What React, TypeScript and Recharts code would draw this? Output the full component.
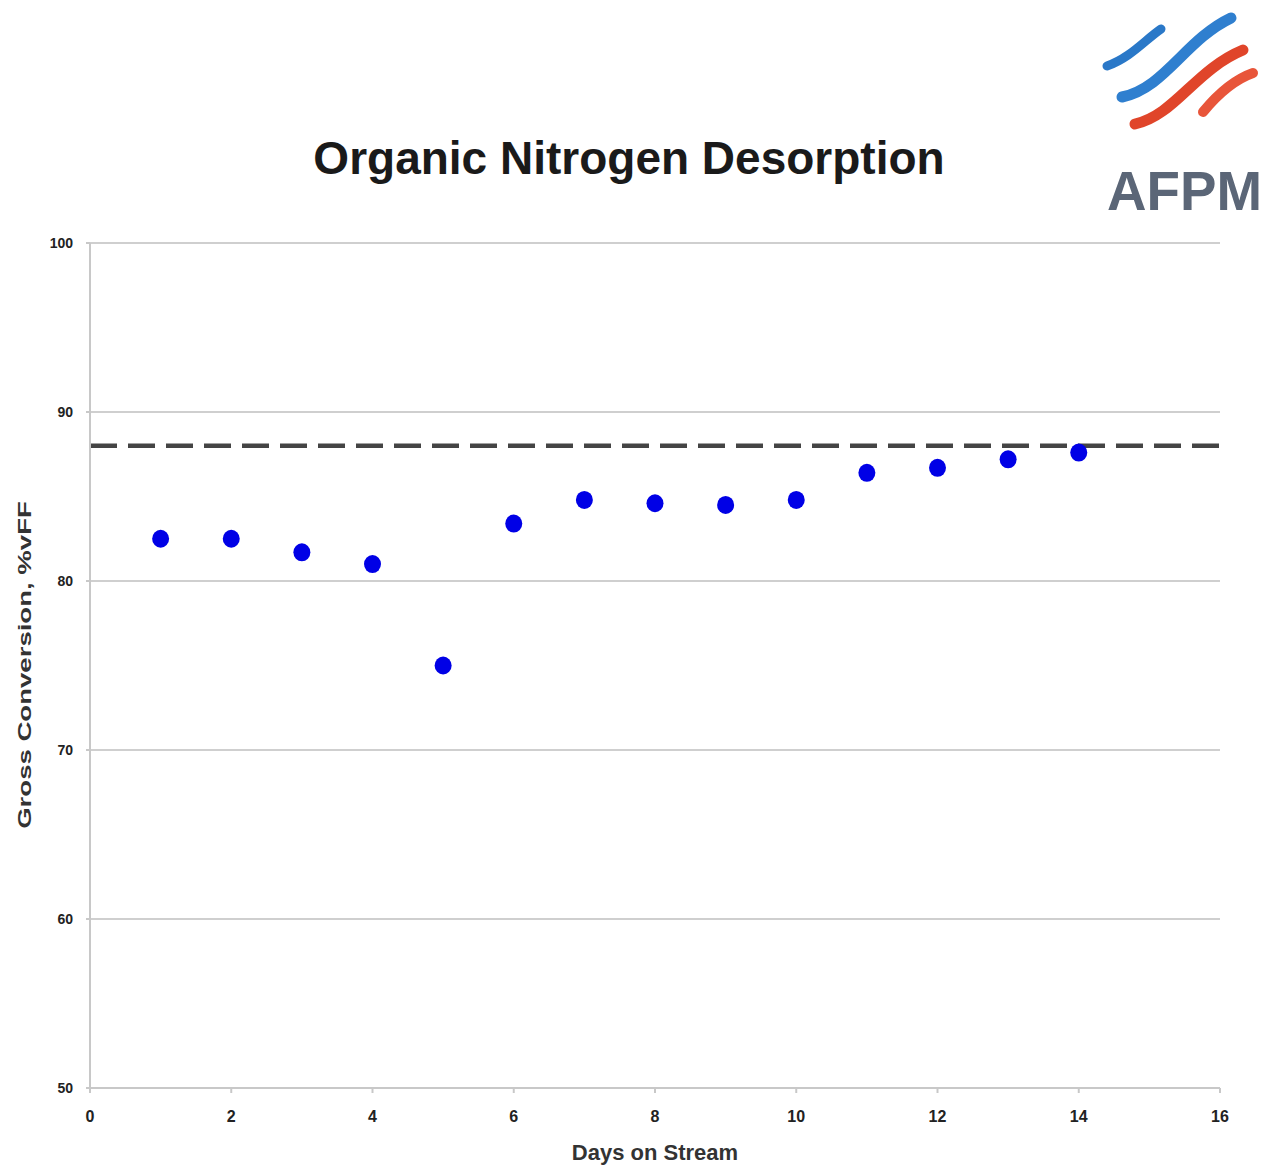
import React from "react";
import {
  ScatterChart,
  Scatter,
  XAxis,
  YAxis,
  CartesianGrid,
  ReferenceLine,
} from "recharts";

document.body.style.margin = "0";

const days = [1, 2, 3, 4, 5, 6, 7, 8, 9, 10, 11, 12, 13, 14];
const conversion = [82.5, 82.5, 81.7, 81.0, 75.0, 83.4, 84.8, 84.6, 84.5, 84.8, 86.4, 86.7, 87.2, 87.6];
const targetConversion = 88;
const xTicks = [0, 2, 4, 6, 8, 10, 12, 14, 16];
const yTicks = [50, 60, 70, 80, 90, 100];

const data = days.map((d, i) => ({ day: d, conv: conversion[i] }));

const font = "'Liberation Sans', Arial, sans-serif";

const Dot = (props: any) => {
  const { cx, cy } = props;
  if (cx == null || cy == null) return null;
  return <ellipse cx={cx} cy={cy} rx={8.5} ry={9} fill="#0000e6" />;
};

function Logo() {
  return (
    <svg
      width={170}
      height={230}
      style={{ position: "absolute", left: 1095, top: 0 }}
      viewBox="0 0 170 230"
    >
      <path d="M12 66 C35 58, 50 40, 66 29" stroke="#2a78c8" strokeWidth={9} fill="none" strokeLinecap="round" />
      <path d="M27 97 C70 88, 90 40, 136 18" stroke="#2f7fcf" strokeWidth={11} fill="none" strokeLinecap="round" />
      <path d="M40 124 C80 115, 100 70, 148 50" stroke="#e0452a" strokeWidth={11} fill="none" strokeLinecap="round" />
      <path d="M108 112 C122 95, 138 80, 158 73" stroke="#e8553a" strokeWidth={10} fill="none" strokeLinecap="round" />
      <text
        x={12}
        y={210}
        fontFamily="'Liberation Sans Narrow', 'Liberation Sans', Arial, sans-serif"
        fontWeight="bold"
        fontSize={56}
        fill="#5b6677"
        textLength={155}
        lengthAdjust="spacingAndGlyphs"
      >
        AFPM
      </text>
    </svg>
  );
}

export default function App() {
  return (
    <div style={{ position: "relative", width: 1265, height: 1169, background: "#fff", fontFamily: font }}>
      <div
        style={{
          position: "absolute",
          left: 0,
          width: 1258,
          top: 131,
          textAlign: "center",
          fontSize: 46,
          fontWeight: "bold",
          color: "#1a1a1a",
          fontFamily: font,
        }}
      >
        Organic Nitrogen Desorption
      </div>
      <Logo />
      <div
        style={{
          position: "absolute",
          left: 25,
          top: 665,
          transform: "translate(-50%, -50%) rotate(-90deg) scaleX(1.45)",
          whiteSpace: "nowrap",
          fontSize: 19,
          fontWeight: "bold",
          color: "#333",
        }}
      >
        Gross Conversion, %vFF
      </div>
      <div
        style={{
          position: "absolute",
          left: 655,
          top: 1153,
          transform: "translate(-50%, -50%)",
          whiteSpace: "nowrap",
          fontSize: 22,
          fontWeight: "bold",
          color: "#333",
        }}
      >
        Days on Stream
      </div>
      <div style={{ position: "absolute", left: 0, top: 0 }}>
        <ScatterChart
          width={1265}
          height={1169}
          margin={{ top: 243, right: 45, bottom: 41, left: 38 }}
        >
          <CartesianGrid horizontal={true} vertical={false} stroke="#cfcfcf" strokeWidth={2} />
          <XAxis
            type="number"
            dataKey="day"
            domain={[0, 16]}
            ticks={xTicks}
            height={40}
            stroke="#c8c8c8"
            strokeWidth={2}
            tickSize={5}
            tickMargin={18}
            tick={{ fill: "#222", fontSize: 16, fontWeight: "bold", fontFamily: font }}
          />
          <YAxis
            type="number"
            dataKey="conv"
            domain={[50, 100]}
            ticks={yTicks}
            width={52}
            stroke="#c8c8c8"
            strokeWidth={2}
            tickSize={4}
            tickMargin={13}
            tick={{ fill: "#222", fontSize: 14, fontWeight: "bold", fontFamily: font }}
          />
          <ReferenceLine
            y={targetConversion}
            stroke="#444"
            strokeWidth={4.5}
            strokeDasharray="27 11"
          />
          <Scatter data={data} shape={<Dot />} isAnimationActive={false} />
        </ScatterChart>
      </div>
    </div>
  );
}
